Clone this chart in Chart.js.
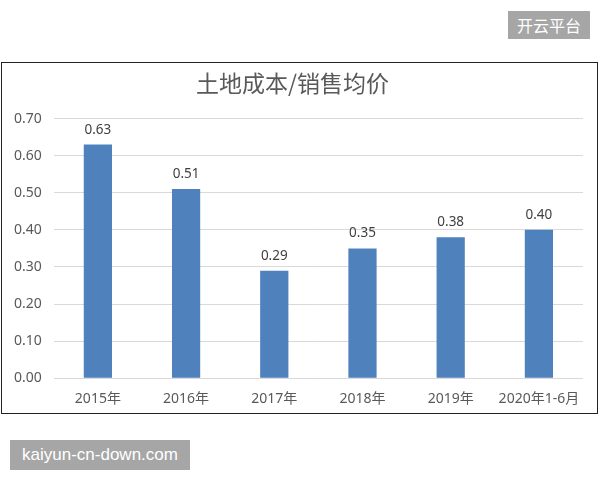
<!DOCTYPE html>
<html>
<head>
<meta charset="utf-8">
<script src="https://cdn.jsdelivr.net/npm/chart.js@4"></script>
<style>
  body { margin: 0; width: 600px; height: 480px; background: #fff; position: relative; overflow: hidden; }
  #box { position: absolute; left: 1px; top: 62px; width: 595px; height: 350px; border: 1px solid #222; }
  .mark { position: absolute; background: #a6a6a6; color: #fff; font-family: "Noto Sans CJK SC", "Noto Sans", sans-serif; }
  #mark1 { left: 508px; top: 11px; width: 82px; height: 28px; line-height: 28px; font-size: 16px; text-align: center; }
  #mark2 { left: 10px; top: 440px; width: 180px; height: 30px; line-height: 30px; font-size: 17px; text-align: center; font-family: "Liberation Sans", "Noto Sans", sans-serif; }
</style>
</head>
<body>
<div class="mark" id="mark1">开云平台</div>
<div id="box"><canvas id="chart1"></canvas></div>
<div class="mark" id="mark2">kaiyun-cn-down.com</div>
<script>
// categories and values
const years = ["2015年", "2016年", "2017年", "2018年", "2019年", "2020年1-6月"];
const ratio = [0.63, 0.51, 0.29, 0.35, 0.38, 0.40];
const yTicks = [0, 0.1, 0.2, 0.3, 0.4, 0.5, 0.6, 0.7];

const fontFam = '"Noto Sans", "Noto Sans CJK SC", sans-serif';

// draws value labels on top of bars
const topLabels = {
  id: "topLabels",
  afterDatasetsDraw(chart) {
    const ctx = chart.ctx;
    const meta = chart.getDatasetMeta(0);
    ctx.save();
    ctx.fillStyle = "#404040";
    ctx.font = "13.5px " + fontFam;
    ctx.textAlign = "center";
    ctx.textBaseline = "bottom";
    meta.data.forEach((bar, i) => {
      ctx.fillText(ratio[i].toFixed(2), bar.x, bar.y - 8);
    });
    ctx.restore();
  }
};

var ctx1 = document.getElementById("chart1").getContext("2d");
var chart1 = new Chart(ctx1, {
  type: "bar",
  data: {
    labels: years,
    datasets: [{
      data: ratio,
      backgroundColor: "#4f81bd",
      borderWidth: 0,
      barPercentage: 0.64,
      categoryPercentage: 0.5
    }]
  },
  options: {
    responsive: true,
    maintainAspectRatio: false,
    animation: false,
    layout: { padding: { left: 0, right: 14, top: 6, bottom: 2 } },
    plugins: {
      legend: { display: false },
      tooltip: { enabled: false },
      title: {
        display: true,
        text: "土地成本/销售均价",
        color: "#595959",
        font: { size: 23, family: '"Noto Sans CJK SC", sans-serif', weight: "normal" },
        padding: { top: 0, bottom: 22 }
      }
    },
    scales: {
      x: {
        grid: { display: false },
        border: { display: false },
        ticks: { color: "#595959", font: { size: 14, family: fontFam }, maxRotation: 0, padding: 4 }
      },
      y: {
        min: 0,
        max: 0.7,
        afterBuildTicks(axis) { axis.ticks = yTicks.map(v => ({ value: v })); },
        grid: { color: "#d9d9d9", drawTicks: false },
        border: { display: false },
        ticks: {
          color: "#595959",
          font: { size: 14, family: fontFam },
          padding: 12,
          callback: v => Number(v).toFixed(2)
        }
      }
    }
  },
  plugins: [topLabels]
});
</script>
</body>
</html>
